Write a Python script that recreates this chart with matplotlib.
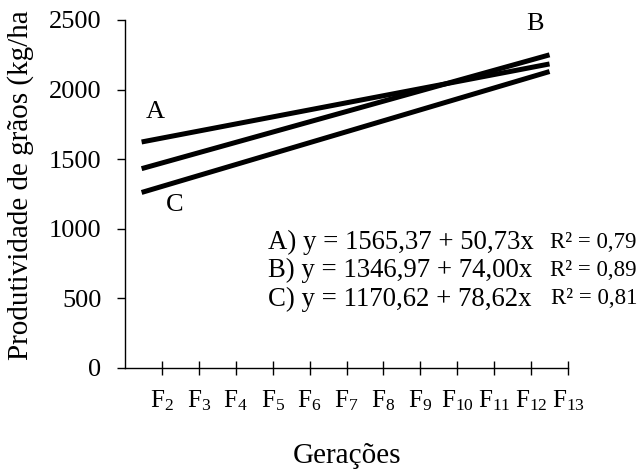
import matplotlib
matplotlib.use("Agg")
import matplotlib.pyplot as plt
import numpy as np

plt.rcParams["font.family"] = ["Liberation Serif", "DejaVu Serif"]
plt.rcParams["mathtext.fontset"] = "custom"
plt.rcParams["mathtext.rm"] = "Liberation Serif"
plt.rcParams["mathtext.it"] = "Liberation Serif:italic"

# Generations (x-axis categories)
generations = ["F2", "F3", "F4", "F5", "F6", "F7", "F8", "F9", "F10", "F11", "F12", "F13"]
tick_positions = [1.7, 2.7, 3.7, 4.7, 5.7, 6.7, 7.7, 8.7, 9.7, 10.7, 11.7, 12.7]

# Fitted linear regressions: y = intercept + slope * x
series = ["A", "B", "C"]
intercepts = [1565.37, 1346.97, 1170.62]
slopes = [50.73, 74.00, 78.62]
r2_values = ["0,79", "0,89", "0,81"]
eq_texts = ["A) y = 1565,37 + 50,73x", "B) y = 1346,97 + 74,00x", "C) y = 1170,62 + 78,62x"]

# Range over which the fitted lines are drawn
x_fit = [1.15, 12.2]

W, H = 641, 475
fig = plt.figure(figsize=(W / 100, H / 100), dpi=100)
ax = fig.add_axes([125 / W, 1 - 368 / H, (568 - 125) / W, (368 - 20) / H])

xs = np.array(x_fit)
for a, b in zip(intercepts, slopes):
    ax.plot(xs, a + b * xs, color="black", lw=3.6, solid_capstyle="butt")

ax.set_xlim(0.7, 12.7)
ax.set_ylim(0, 2500)
ax.set_yticks([0, 500, 1000, 1500, 2000, 2500])
ax.set_xticks(tick_positions)
ax.set_xticklabels([r"$\mathregular{F_{%s}}$" % g[1:] for g in generations])

for s in ["top", "right"]:
    ax.spines[s].set_visible(False)
for s in ["left", "bottom"]:
    ax.spines[s].set_linewidth(1.0)

ax.tick_params(axis="y", direction="out", length=6, width=1, pad=11, labelsize=19)
ax.tick_params(axis="x", direction="inout", length=10, width=1, pad=10, labelsize=18)

ax.set_ylabel("Produtividade de grãos (kg/ha", fontsize=21)
ax.yaxis.set_label_coords(-0.205, 0.526)
ax.set_xlabel("Gerações", fontsize=21)
ax.xaxis.set_label_coords(0.5, -0.215)

# Series labels near the lines
fig.text(155 / W, 1 - 112 / H, "A", fontsize=19, ha="center", va="center")
fig.text(535 / W, 1 - 24 / H, "B", fontsize=19, ha="center", va="center")
fig.text(175 / W, 1 - 205 / H, "C", fontsize=19, ha="center", va="center")

# Regression equations
eq_y = [242, 270, 299]
for txt, r2, yy in zip(eq_texts, r2_values, eq_y):
    fig.text(268 / W, 1 - yy / H, txt, fontsize=19.3, ha="left", va="center")
    fig.text(637 / W, 1 - yy / H, "R² = " + r2, fontsize=16.5, ha="right", va="center")

fig.savefig("out.png", dpi=100)
